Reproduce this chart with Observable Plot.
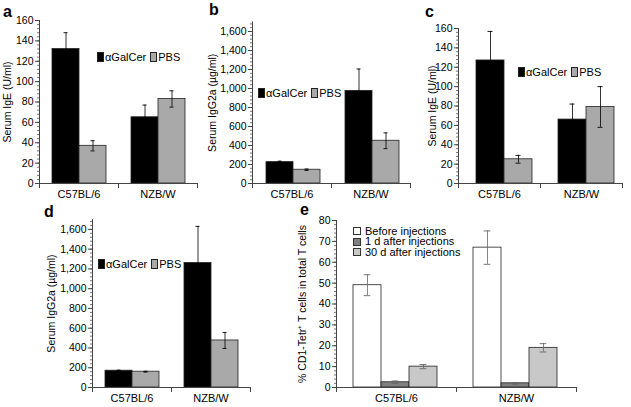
<!DOCTYPE html>
<html><head><meta charset="utf-8">
<script src="https://cdn.jsdelivr.net/npm/d3@7"></script>
<script src="https://cdn.jsdelivr.net/npm/@observablehq/plot@0.6"></script>
<style>
body{margin:0;background:#fff;font-family:"Liberation Sans",Arial,sans-serif;}
#fig{position:relative;width:631px;height:407px;overflow:hidden;background:#fff;}
.panel{position:absolute;}
.lab{position:absolute;font-weight:bold;font-size:16px;line-height:16px;}
.leg{position:absolute;font-size:11px;line-height:11px;white-space:nowrap;display:flex;align-items:center;color:#000;}
.legcol{position:absolute;font-size:11px;line-height:10.6px;white-space:nowrap;color:#000;}
.legcol div{display:flex;align-items:center;height:10.6px;}
.sw{display:inline-block;width:5px;height:8px;margin-right:1px;border:0.8px solid #222;}
.swe{display:inline-block;width:6px;height:6px;margin-right:4px;border:0.8px solid #333;}
</style></head><body><div id="fig"></div>
<script>
// ---------- data ----------
const strains = ["C57BL/6", "NZB/W"];
const treatments = ["αGalCer", "PBS"];
// order: C57BL/6 αGalCer, C57BL/6 PBS, NZB/W αGalCer, NZB/W PBS
const igeA = [132, 37, 65, 83];
const igeAErr = [16, 5, 12, 8];
const igg2aB = [225, 145, 975, 450];
const igg2aBErr = [10, 7, 230, 83];
const igeC = [127, 25, 66, 79];
const igeCErr = [30, 4, 16, 21];
const igg2aD = [170, 160, 1260, 476];
const igg2aDErr = [5, 4, 370, 81];
const timepoints = ["Before injections", "1 d after injections", "30 d after injections"];
// order: C57BL/6 (before, 1 d, 30 d), NZB/W (before, 1 d, 30 d)
const cd1E = [49, 2.5, 10, 67, 2, 19];
const cd1EErr = [5, 0.6, 1, 8, 0.4, 2];
const igeTicks = [0, 20, 40, 60, 80, 100, 120, 140, 160];
const iggTicks = [0, 200, 400, 600, 800, 1000, 1200, 1400, 1600];
const pctTicks = [0, 10, 20, 30, 40, 50, 60, 70, 80];

const fig = document.getElementById("fig");
const FONT = "Liberation Sans, Arial, sans-serif";

function panel(o) {
  const n = o.series.length;
  const rows = [];
  strains.forEach((s, i) => o.series.forEach((t, j) => {
    const k = i * n + j;
    rows.push({strain: s, series: t, value: o.values[k], err: o.errors[k]});
  }));
  const innerW = (o.width - o.ml - o.mr) / strains.length;
  const innerH = o.height - o.mt - o.mb;
  const po = (innerW / o.barW - n) / 2;
  const al = o.leftPad / (innerW - n * o.barW);
  const capInset = (o.barW - o.capW) / 2;
  const axisColor = "#444";
  const svg = Plot.plot({
    width: o.width, height: o.height,
    marginLeft: o.ml, marginRight: o.mr, marginTop: o.mt, marginBottom: o.mb,
    style: {fontFamily: FONT, fontSize: "10.5px", background: "none", overflow: "visible", color: "#000"},
    fx: {domain: strains, paddingInner: 0, paddingOuter: 0, label: null},
    x: {domain: o.series, paddingInner: 0, paddingOuter: po, align: al, axis: null},
    y: {domain: [0, o.ymax], label: null},
    color: {domain: o.series, range: o.colors},
    marks: [
      Plot.barY(rows, {fx: "strain", x: "series", y: "value", fill: "series", stroke: "#222", strokeWidth: 0.8}),
      Plot.ruleX(rows, {fx: "strain", x: "series", y1: d => d.value - d.err, y2: d => d.value + d.err, stroke: o.errColor, strokeWidth: 0.8}),
      Plot.tickY(rows, {fx: "strain", x: "series", y: d => d.value + d.err, stroke: o.errColor, strokeWidth: 0.9, insetLeft: capInset, insetRight: capInset}),
      Plot.tickY(rows, {fx: "strain", x: "series", y: d => d.value - d.err, stroke: o.errColor, strokeWidth: 0.9, insetLeft: capInset, insetRight: capInset}),
      Plot.ruleY([0], {stroke: axisColor}),
      Plot.frame({anchor: "left", facetAnchor: "left", stroke: axisColor}),
      Plot.frame({anchor: "left", insetTop: innerH, insetBottom: -4, stroke: axisColor}),
      Plot.frame({anchor: "right", facetAnchor: "right", insetTop: innerH, insetBottom: -4, stroke: axisColor}),
      Plot.axisY({ticks: d3.range(0, o.ymax + 1e-9, o.minor), tickSize: 2, tickFormat: () => "", label: null, stroke: "#777"}),
      Plot.axisY({ticks: o.yticks, tickSize: 4, tickPadding: 2, tickFormat: o.fmt, stroke: axisColor,
        label: o.ylabel, labelAnchor: "center", labelOffset: o.labelOffset, labelArrow: "none", fontSize: 10.5}),
      Plot.axisFx({anchor: "bottom", tickSize: 0, tickPadding: 7, label: null, fontSize: 11})
    ]
  });
  svg.classList.add("panel");
  svg.style.left = o.left + "px";
  svg.style.top = o.top + "px";
  fig.appendChild(svg);
}

const pairColors = ["#000000", "#a9a9a9"];
const eColors = ["#ffffff", "#808080", "#c8c8c8"];
const f0 = d3.format(",");

panel({left: 0, top: 0, width: 205, height: 210, ml: 39, mr: 8, mt: 20, mb: 27,
  series: treatments, values: igeA, errors: igeAErr, colors: pairColors, errColor: "#000",
  ymax: 160, yticks: igeTicks, minor: 4, fmt: f0, ylabel: "Serum IgE (U/ml)", labelOffset: 36,
  barW: 28, leftPad: 12, capW: 5});
panel({left: 205, top: 0, width: 215, height: 210, ml: 47, mr: 10, mt: 21.5, mb: 27,
  series: treatments, values: igg2aB, errors: igg2aBErr, colors: pairColors, errColor: "#000",
  ymax: 1700, yticks: iggTicks, minor: 40, fmt: f0, ylabel: "Serum IgG2a (µg/ml)", labelOffset: 44,
  barW: 28, leftPad: 13, capW: 5});
panel({left: 420, top: 0, width: 211, height: 210, ml: 38, mr: 9, mt: 28, mb: 27,
  series: treatments, values: igeC, errors: igeCErr, colors: pairColors, errColor: "#000",
  ymax: 160, yticks: igeTicks, minor: 4, fmt: f0, ylabel: "Serum IgE (U/ml)", labelOffset: 30,
  barW: 28, leftPad: 18, capW: 5});
panel({left: 0, top: 200, width: 260, height: 207, ml: 91, mr: 10, mt: 19, mb: 20,
  series: treatments, values: igg2aD, errors: igg2aDErr, colors: pairColors, errColor: "#000",
  ymax: 1700, yticks: iggTicks, minor: 40, fmt: f0, ylabel: "Serum IgG2a (µg/ml)", labelOffset: 45,
  barW: 28, leftPad: 12, capW: 5});
panel({left: 290, top: 200, width: 300, height: 207, ml: 46, mr: 14, mt: 20, mb: 20,
  series: timepoints, values: cd1E, errors: cd1EErr, colors: eColors, errColor: "#666",
  ymax: 80, yticks: pctTicks, minor: 2, fmt: f0, ylabel: "% CD1-Tetr\u207A T cells in total T cells", labelOffset: 38,
  barW: 28.3, leftPad: 17, capW: 7});

// ---------- panel letters ----------
[["a", 3, 3.5], ["b", 209, 1.5], ["c", 425, 3.5], ["d", 44, 203.5], ["e", 300, 201.5]].forEach(([t, x, y]) => {
  const el = document.createElement("div");
  el.className = "lab"; el.textContent = t;
  el.style.left = x + "px"; el.style.top = y + "px";
  fig.appendChild(el);
});

// ---------- legends ----------
function pairLegend(x, yc) {
  const el = document.createElement("div");
  el.className = "leg";
  el.style.left = x + "px"; el.style.top = (yc - 5.5) + "px";
  treatments.forEach((t, i) => {
    const sw = document.createElement("span");
    sw.className = "sw"; sw.style.background = pairColors[i];
    if (i > 0) sw.style.marginLeft = "4px";
    el.appendChild(sw);
    const tx = document.createElement("span"); tx.textContent = t;
    el.appendChild(tx);
  });
  fig.appendChild(el);
}
pairLegend(97, 57);
pairLegend(258, 93);
pairLegend(518, 72);
pairLegend(98, 264);

(function () {
  const el = document.createElement("div");
  el.className = "legcol";
  el.style.left = "353px"; el.style.top = "225.7px";
  timepoints.forEach((t, i) => {
    const row = document.createElement("div");
    const sw = document.createElement("span");
    sw.className = "swe"; sw.style.background = eColors[i];
    row.appendChild(sw);
    const tx = document.createElement("span"); tx.textContent = t;
    row.appendChild(tx);
    el.appendChild(row);
  });
  fig.appendChild(el);
})();
</script></body></html>
